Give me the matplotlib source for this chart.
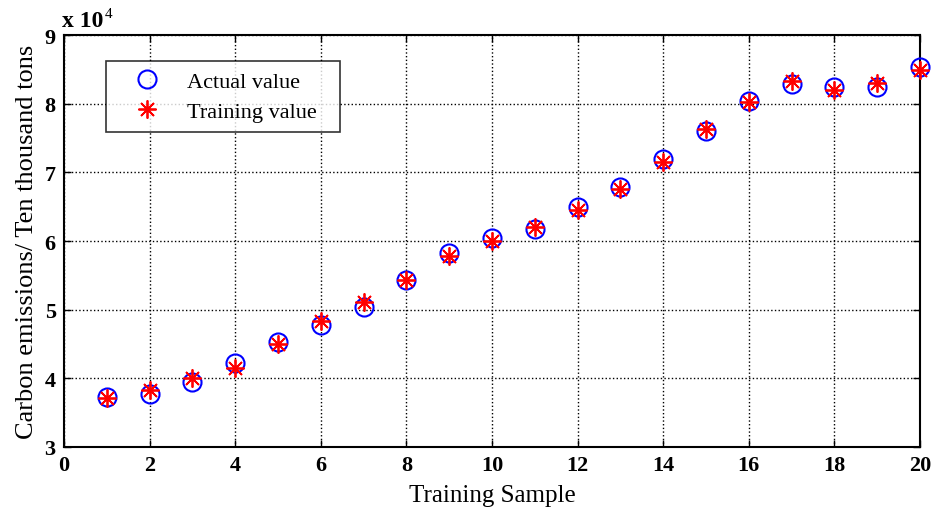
import matplotlib
matplotlib.use('Agg')
import matplotlib.pyplot as plt
from matplotlib.ticker import FuncFormatter

# 训练样本：实际碳排放与训练拟合值（万吨）
samples = list(range(1, 21))
actual = [37300, 37700, 39400, 42200, 45300, 47800, 50400, 54300, 58300, 60400,
          61800, 64900, 67900, 71900, 76000, 80400, 82900, 82400, 82500, 85300]
trained = [37100, 38300, 40000, 41500, 45000, 48300, 51100, 54300, 57900, 60000,
           62100, 64500, 67600, 71500, 76300, 80200, 83300, 82000, 83000, 84900]

plt.rcParams['font.family'] = ['Liberation Serif', 'DejaVu Serif']

fig = plt.figure(figsize=(9.32, 5.10), dpi=100)
ax = fig.add_axes([0.0687, 0.1216, 0.9183, 0.8074])

ax.plot(samples, actual, linestyle='none', marker='o', markersize=13,
        markerfacecolor='none', markeredgecolor='#0000ff', markeredgewidth=1.5,
        label='Actual value', clip_on=False, zorder=3)
ax.plot(samples, trained, linestyle='none', marker=(8, 2, 0), markersize=13,
        markeredgecolor='#ff0000', markeredgewidth=1.3, color='#ff0000',
        label='Training value', clip_on=False, zorder=4)

ax.set_xlim(0, 20)
ax.set_ylim(30000, 90000)
ax.set_xticks(range(0, 21, 2))
ax.set_yticks(range(30000, 90001, 10000))
ax.yaxis.set_major_formatter(FuncFormatter(lambda v, p: f'{v / 1e4:g}'))

ax.grid(True, color='black', linestyle=':', linewidth=1.0)
ax.tick_params(direction='in', length=5, width=1, top=True, right=True,
               labelsize=16, pad=6)
for lab in ax.get_xticklabels() + ax.get_yticklabels():
    lab.set_fontweight('bold')
for sp in ax.spines.values():
    sp.set_linewidth(1.5)

# 纵轴量级标注
ax.text(-0.002, 1.0218, 'x 10', transform=ax.transAxes, fontsize=17,
        fontweight='bold', ha='left', va='baseline')
ax.text(0.048, 1.045, '4', transform=ax.transAxes, fontsize=11,
        ha='left', va='baseline')

ax.set_xlabel('Training Sample', fontsize=18, labelpad=6)
ax.set_ylabel('Carbon emissions/ Ten thousand tons', fontsize=19, labelpad=5)

leg = ax.legend(loc='upper left', bbox_to_anchor=(0.049, 0.6, 0.2734, 0.337),
                mode='expand', fontsize=16, frameon=True, fancybox=False,
                borderpad=0.45, handlelength=2.8, handletextpad=0.4,
                borderaxespad=0, labelspacing=0.45)
leg.get_frame().set_edgecolor('black')
leg.get_frame().set_linewidth(1.2)

fig.savefig('out.png', dpi=100)
